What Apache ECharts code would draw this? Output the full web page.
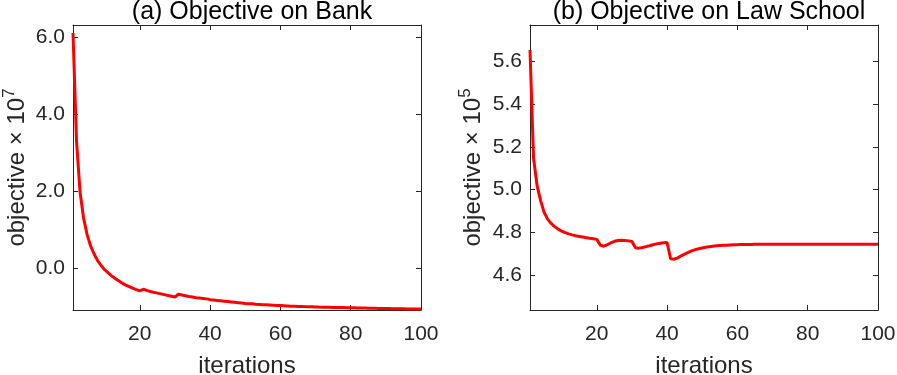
<!DOCTYPE html>
<html>
<head>
<meta charset="utf-8">
<script src="https://cdn.jsdelivr.net/npm/echarts@6/dist/echarts.min.js"></script>
<style>
  html, body { margin: 0; padding: 0; background: #fff; }
  #chart { width: 897px; height: 375px; }
</style>
</head>
<body>
<div id="chart"></div>
<script>
// objective per iteration (1..100), Bank in units of 1e7
const bankObjective = [
  6.12, 3.3, 1.98, 1.3, 0.87, 0.57, 0.36, 0.19, 0.06, -0.05,
  -0.13, -0.21, -0.28, -0.34, -0.4, -0.45, -0.49, -0.53, -0.57, -0.6,
  -0.56, -0.59, -0.62, -0.64, -0.66, -0.68, -0.7, -0.72, -0.74, -0.76,
  -0.69, -0.71, -0.73, -0.75, -0.76, -0.78, -0.79, -0.8, -0.81, -0.83,
  -0.84, -0.85, -0.86, -0.87, -0.88, -0.89, -0.9, -0.91, -0.92, -0.93,
  -0.935, -0.94, -0.95, -0.955, -0.96, -0.965, -0.97, -0.975, -0.98, -0.985,
  -0.99, -0.995, -1.0, -1.003, -1.006, -1.009, -1.012, -1.015, -1.018, -1.021,
  -1.024, -1.026, -1.028, -1.03, -1.032, -1.034, -1.036, -1.038, -1.04, -1.042,
  -1.044, -1.046, -1.048, -1.05, -1.052, -1.054, -1.056, -1.058, -1.06, -1.062,
  -1.063, -1.065, -1.066, -1.068, -1.069, -1.071, -1.072, -1.074, -1.075, -1.077
];

// Law School in units of 1e5
const lawObjective = [
  5.655, 5.15, 5.02, 4.95, 4.895, 4.862, 4.842, 4.827, 4.815, 4.806,
  4.799, 4.793, 4.788, 4.784, 4.781, 4.778, 4.775, 4.772, 4.77, 4.767,
  4.74, 4.735, 4.742, 4.751, 4.758, 4.762, 4.763, 4.762, 4.76, 4.757,
  4.728, 4.726, 4.729, 4.733, 4.737, 4.742, 4.746, 4.749, 4.751, 4.752,
  4.676, 4.674, 4.68, 4.69, 4.698, 4.706, 4.713, 4.719, 4.723, 4.727,
  4.73, 4.733, 4.735, 4.737, 4.738, 4.739, 4.74, 4.741, 4.742, 4.742,
  4.743, 4.743, 4.743, 4.743, 4.744, 4.744, 4.744, 4.744, 4.744, 4.744,
  4.744, 4.744, 4.744, 4.744, 4.744, 4.744, 4.744, 4.744, 4.744, 4.744,
  4.744, 4.744, 4.744, 4.744, 4.744, 4.744, 4.744, 4.744, 4.744, 4.744,
  4.744, 4.744, 4.744, 4.744, 4.744, 4.744, 4.744, 4.744, 4.744, 4.744
];

const xTicks = [20, 40, 60, 80, 100];
const bankYTicks = [0, 2, 4, 6];
const lawYTicks = [4.6, 4.8, 5.0, 5.2, 5.4, 5.6];
const titles = ['(a) Objective on Bank', '(b) Objective on Law School'];

const AXIS = '#262626';
const FONT = 'Liberation Sans, Arial, Helvetica, sans-serif';

const toPairs = vals => vals.map((v, i) => [i + 1, v]);

function boxAxes(grid, yMin, yMax, yTicks, exp, nameGap) {
  const line = {show: true, onZero: false, lineStyle: {color: AXIS, width: 1}};
  const tick = vals => ({show: true, inside: true, length: 5, customValues: vals, lineStyle: {color: AXIS}});
  const x = {
    type: 'value', gridIndex: grid, min: 1, max: 100,
    axisLine: line, axisTick: tick(xTicks), splitLine: {show: false}
  };
  const y = {
    type: 'value', gridIndex: grid, min: yMin, max: yMax,
    axisLine: line, axisTick: tick(yTicks), splitLine: {show: false}
  };
  return {
    xAxis: [
      Object.assign({}, x, {
        position: 'bottom',
        name: 'iterations', nameLocation: 'middle', nameGap: 44,
        nameTextStyle: {color: AXIS, fontSize: 24, fontFamily: FONT},
        axisLabel: {customValues: xTicks, color: AXIS, fontSize: 21, fontFamily: FONT, margin: 14}
      }),
      Object.assign({}, x, {position: 'top', axisLabel: {show: false}})
    ],
    yAxis: [
      Object.assign({}, y, {
        position: 'left',
        name: '{a|objective × 10}{s|' + exp + '}', nameLocation: 'middle', nameRotate: 90, nameGap: nameGap,
        nameTextStyle: {
          color: AXIS, fontFamily: FONT,
          rich: {
            a: {fontSize: 24, color: AXIS, fontFamily: FONT},
            s: {fontSize: 17, color: AXIS, fontFamily: FONT, padding: [0, 0, 16, 0]}
          }
        },
        axisLabel: {customValues: yTicks, color: AXIS, fontSize: 21, fontFamily: FONT, margin: 8,
          formatter: v => v.toFixed(1)}
      }),
      Object.assign({}, y, {position: 'right', axisLabel: {show: false}})
    ]
  };
}

const a = boxAxes(0, -1.1, 6.33, bankYTicks, '7', 39);
const b = boxAxes(1, 4.436, 5.772, lawYTicks, '5', 40);

const chart = echarts.init(document.getElementById('chart'));
chart.setOption({
  animation: false,
  backgroundColor: '#fff',
  title: [
    {text: titles[0], left: 247, top: -5, textAlign: 'center',
      textStyle: {color: '#000', fontSize: 25, fontWeight: 'normal', fontFamily: FONT}},
    {text: titles[1], left: 704, top: -5, textAlign: 'center',
      textStyle: {color: '#000', fontSize: 25, fontWeight: 'normal', fontFamily: FONT}}
  ],
  grid: [
    {left: 73, right: 476, top: 25, bottom: 65, outerBoundsMode: 'none'},
    {left: 530, right: 19, top: 25, bottom: 65, outerBoundsMode: 'none'}
  ],
  xAxis: a.xAxis.concat(b.xAxis),
  yAxis: a.yAxis.concat(b.yAxis),
  series: [
    {type: 'line', xAxisIndex: 0, yAxisIndex: 0, data: toPairs(bankObjective),
      showSymbol: false, lineStyle: {color: '#ff0000', width: 3}, itemStyle: {color: '#ff0000'}},
    {type: 'line', xAxisIndex: 2, yAxisIndex: 2, data: toPairs(lawObjective),
      showSymbol: false, lineStyle: {color: '#ff0000', width: 3}, itemStyle: {color: '#ff0000'}}
  ]
});
</script>
</body>
</html>
